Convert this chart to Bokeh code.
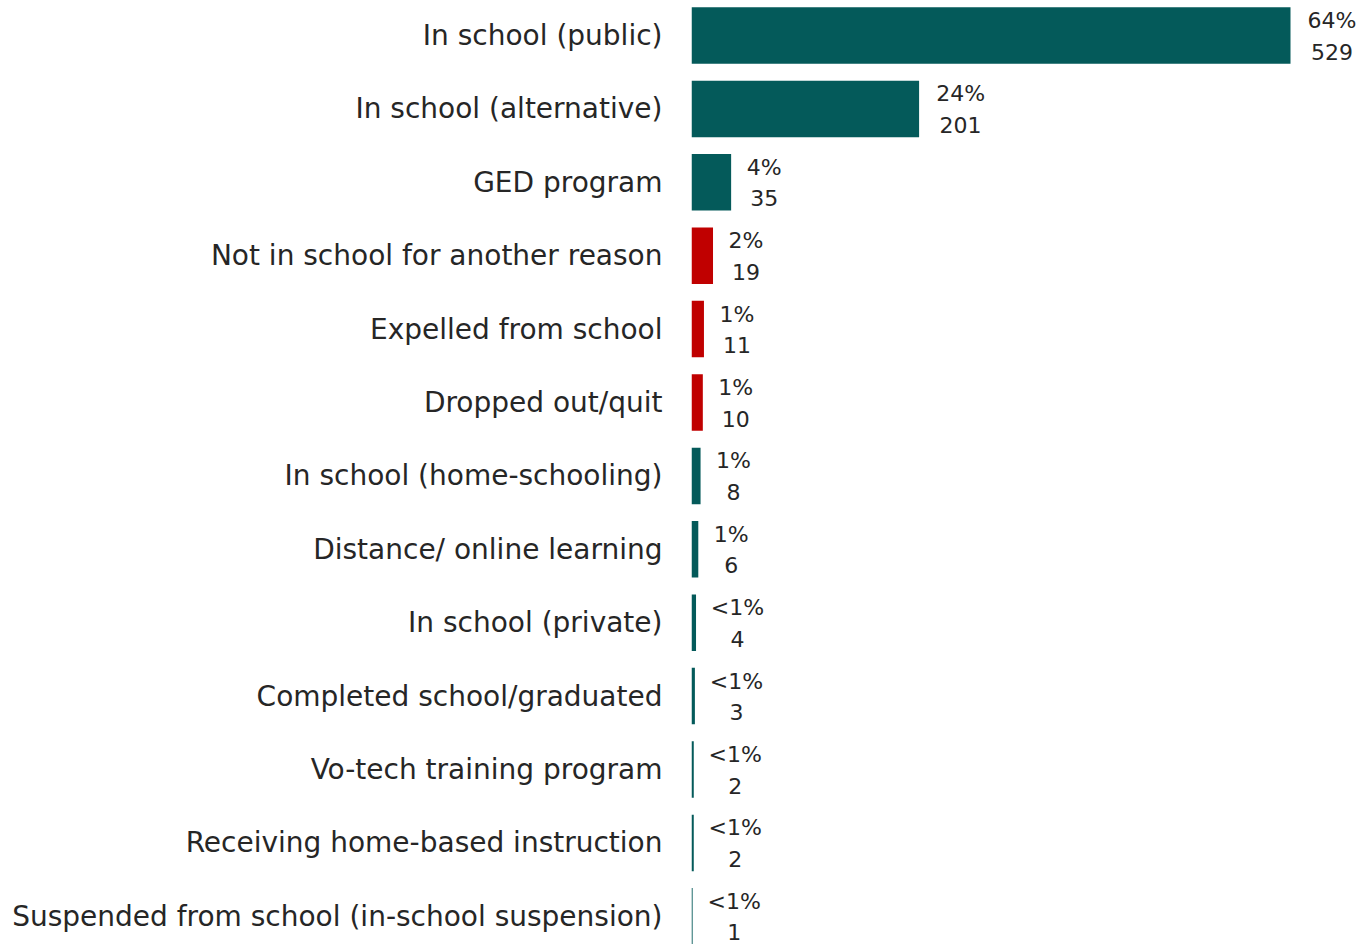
from bokeh.plotting import figure
from bokeh.models import ColumnDataSource, Range1d, FixedTicker
from bokeh.embed import file_html
from bokeh.resources import INLINE

categories = [
    "In school (public)",
    "In school (alternative)",
    "GED program",
    "Not in school for another reason",
    "Expelled from school",
    "Dropped out/quit",
    "In school (home-schooling)",
    "Distance/ online learning",
    "In school (private)",
    "Completed school/graduated",
    "Vo-tech training program",
    "Receiving home-based instruction",
    "Suspended from school (in-school suspension)",
]
counts = [529, 201, 35, 19, 11, 10, 8, 6, 4, 3, 2, 2, 1]
percent_labels = ["64%", "24%", "4%", "2%", "1%", "1%", "1%", "1%", "<1%", "<1%", "<1%", "<1%", "<1%"]
in_school = [True, True, True, False, False, False, True, True, True, True, True, True, True]

TEAL = "#045A5A"
RED = "#C00000"
TEXT = "#262626"

n = len(categories)
pos = list(range(n))
colors = [TEAL if s else RED for s in in_school]
offsets = [16 + 8.5 * len(p) for p in percent_labels]

src = ColumnDataSource(dict(
    y=pos, count=counts, pct=percent_labels, color=colors, off=offsets,
    cnt=[str(c) for c in counts],
))

pitch = 73.4
top = -35 / pitch
H = 944
W = 1361
bottom = top + H / pitch
frame_w = W - 691
x_end = 529 * frame_w / 599.0

p = figure(width=W, height=H, output_backend="svg", toolbar_location=None,
           x_range=Range1d(0, x_end), y_range=Range1d(bottom, top),
           min_border_left=691, min_border_right=0, min_border_top=0, min_border_bottom=0)
p.hbar(y="y", right="count", left=0, height=0.77, color="color", source=src, line_color=None)

for col, yoff in (("pct", -15), ("cnt", 16)):
    p.text(x="count", y="y", text=col, source=src, x_offset="off", y_offset=yoff,
           text_align="center", text_baseline="middle", text_font_size="22px",
           text_font={"value": "DejaVu Sans"}, text_color=TEXT)

p.xaxis.visible = False
p.grid.visible = False
p.outline_line_color = None
p.yaxis.ticker = FixedTicker(ticks=pos)
p.yaxis.major_label_overrides = {i: c for i, c in enumerate(categories)}
p.yaxis.axis_line_color = None
p.yaxis.major_tick_line_color = None
p.yaxis.minor_tick_line_color = None
p.yaxis.major_tick_out = 0
p.yaxis.major_label_standoff = 29
p.yaxis.major_label_text_font_size = "28px"
p.yaxis.major_label_text_font = "DejaVu Sans"
p.yaxis.major_label_text_color = TEXT

open("out.html", "w").write(file_html(p, INLINE))
